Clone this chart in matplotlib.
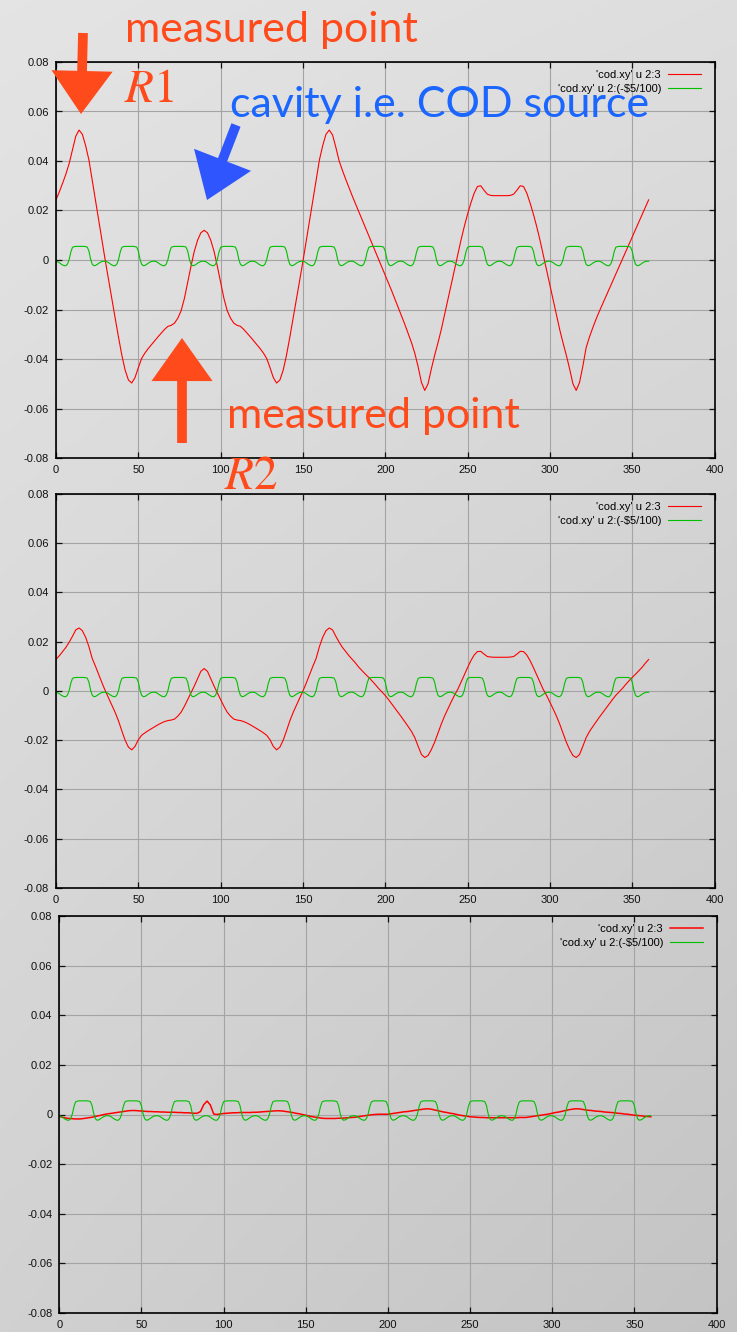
import matplotlib.pyplot as plt
import numpy as np
from matplotlib.patches import FancyArrowPatch, ArrowStyle

plt.rcParams["font.family"] = ["Liberation Sans", "DejaVu Sans"]
plt.rcParams["axes.unicode_minus"] = False
plt.rcParams["mathtext.fontset"] = "stix"

W, H = 737, 1332

# closed orbit (column 3 of cod.xy), sampled every 2 units of column 2
x_red = np.arange(0, 361, 2)
red_full = [
    0.0243, 0.0275, 0.0310, 0.0347, 0.0390, 0.0445, 0.0500, 0.0525, 0.0508, 0.0462,
    0.0404, 0.0322, 0.0240, 0.0158, 0.0076, -0.0005, -0.0083, -0.0160, -0.0237, -0.0313,
    -0.0385, -0.0445, -0.0485, -0.0497, -0.0475, -0.0435, -0.0398, -0.0376, -0.0358, -0.0342,
    -0.0326, -0.0310, -0.0295, -0.0280, -0.0268, -0.0264, -0.0255, -0.0235, -0.0205, -0.0155,
    -0.0090, -0.0025, 0.0035, 0.0080, 0.0110, 0.0120, 0.0110, 0.0080, 0.0035, -0.0025,
    -0.0090, -0.0155, -0.0205, -0.0235, -0.0255, -0.0264, -0.0268, -0.0280, -0.0295, -0.0310,
    -0.0326, -0.0342, -0.0358, -0.0376, -0.0398, -0.0435, -0.0475, -0.0497, -0.0485, -0.0445,
    -0.0385, -0.0313, -0.0237, -0.0160, -0.0083, -0.0005, 0.0076, 0.0158, 0.0240, 0.0322,
    0.0404, 0.0462, 0.0508, 0.0525, 0.0505, 0.0455, 0.0400, 0.0362, 0.0326, 0.0292,
    0.0258, 0.0226, 0.0194, 0.0162, 0.0130, 0.0098, 0.0066, 0.0034, 0.0002, -0.0030,
    -0.0062, -0.0094, -0.0126, -0.0160, -0.0194, -0.0228, -0.0262, -0.0298, -0.0335, -0.0378,
    -0.0432, -0.0495, -0.0527, -0.0500, -0.0440, -0.0385, -0.0335, -0.0282, -0.0222, -0.0160,
    -0.0100, -0.0040, 0.0020, 0.0080, 0.0135, 0.0185, 0.0230, 0.0270, 0.0297, 0.0300,
    0.0282, 0.0266, 0.0261, 0.0260, 0.0260, 0.0260, 0.0260, 0.0260, 0.0261, 0.0266,
    0.0282, 0.0300, 0.0297, 0.0270, 0.0230, 0.0185, 0.0135, 0.0080, 0.0020, -0.0040,
    -0.0100, -0.0160, -0.0222, -0.0282, -0.0335, -0.0385, -0.0440, -0.0500, -0.0527, -0.0495,
    -0.0430, -0.0355, -0.0312, -0.0275, -0.0240, -0.0208, -0.0178, -0.0148, -0.0118, -0.0088,
    -0.0058, -0.0028, 0.0002, 0.0033, 0.0063, 0.0093, 0.0123, 0.0153, 0.0183, 0.0213,
    0.0243,
]
red_half = [
    0.0128, 0.0143, 0.0160, 0.0177, 0.0198, 0.0222, 0.0248, 0.0256, 0.0245, 0.0218,
    0.0180, 0.0132, 0.0100, 0.0066, 0.0032, 0.0000, -0.0029, -0.0058, -0.0088, -0.0122,
    -0.0162, -0.0200, -0.0228, -0.0239, -0.0225, -0.0198, -0.0180, -0.0170, -0.0161, -0.0153,
    -0.0145, -0.0137, -0.0130, -0.0124, -0.0120, -0.0118, -0.0114, -0.0102, -0.0086, -0.0062,
    -0.0035, -0.0008, 0.0020, 0.0050, 0.0080, 0.0091, 0.0080, 0.0050, 0.0020, -0.0008,
    -0.0035, -0.0062, -0.0086, -0.0102, -0.0114, -0.0118, -0.0120, -0.0124, -0.0130, -0.0137,
    -0.0145, -0.0153, -0.0161, -0.0170, -0.0180, -0.0198, -0.0225, -0.0239, -0.0228, -0.0200,
    -0.0162, -0.0122, -0.0088, -0.0058, -0.0029, 0.0000, 0.0032, 0.0066, 0.0100, 0.0132,
    0.0180, 0.0218, 0.0245, 0.0256, 0.0248, 0.0222, 0.0198, 0.0177, 0.0160, 0.0143,
    0.0128, 0.0113, 0.0096, 0.0082, 0.0068, 0.0055, 0.0041, 0.0026, 0.0010, -0.0004,
    -0.0018, -0.0035, -0.0053, -0.0071, -0.0089, -0.0107, -0.0126, -0.0145, -0.0165, -0.0190,
    -0.0225, -0.0258, -0.0270, -0.0262, -0.0238, -0.0208, -0.0172, -0.0135, -0.0102, -0.0073,
    -0.0045, -0.0018, 0.0006, 0.0035, 0.0065, 0.0095, 0.0123, 0.0146, 0.0160, 0.0161,
    0.0150, 0.0140, 0.0138, 0.0137, 0.0137, 0.0137, 0.0137, 0.0137, 0.0138, 0.0140,
    0.0150, 0.0161, 0.0160, 0.0146, 0.0123, 0.0095, 0.0065, 0.0035, 0.0006, -0.0018,
    -0.0045, -0.0073, -0.0102, -0.0135, -0.0172, -0.0208, -0.0238, -0.0262, -0.0270, -0.0258,
    -0.0225, -0.0190, -0.0165, -0.0145, -0.0126, -0.0107, -0.0089, -0.0071, -0.0053, -0.0035,
    -0.0018, -0.0004, 0.0010, 0.0026, 0.0041, 0.0055, 0.0068, 0.0082, 0.0096, 0.0113,
    0.0128,
]
red_corr = [
    -0.0008, -0.0011, -0.0014, -0.0016, -0.0017, -0.0018, -0.0018, -0.0017, -0.0015, -0.0013,
    -0.0011, -0.0008, -0.0005, -0.0002, 0.0001, 0.0003, 0.0005, 0.0007, 0.0009, 0.0011,
    0.0013, 0.0015, 0.0016, 0.0016, 0.0015, 0.0014, 0.0013, 0.0012, 0.0012, 0.0011,
    0.0011, 0.0010, 0.0010, 0.0009, 0.0009, 0.0009, 0.0008, 0.0008, 0.0007, 0.0007,
    0.0006, 0.0005, 0.0005, 0.0012, 0.0040, 0.0054, 0.0038, 0.0002, 0.0000, 0.0002,
    0.0004, 0.0005, 0.0006, 0.0007, 0.0007, 0.0008, 0.0008, 0.0008, 0.0008, 0.0009,
    0.0009, 0.0010, 0.0011, 0.0012, 0.0013, 0.0014, 0.0015, 0.0015, 0.0014, 0.0012,
    0.0010, 0.0008, 0.0005, 0.0003, 0.0000, -0.0003, -0.0006, -0.0009, -0.0011, -0.0013,
    -0.0015, -0.0016, -0.0016, -0.0016, -0.0016, -0.0015, -0.0015, -0.0014, -0.0013, -0.0012,
    -0.0011, -0.0009, -0.0007, -0.0005, -0.0003, -0.0001, 0.0000, 0.0001, 0.0001, 0.0001,
    0.0001, 0.0003, 0.0005, 0.0007, 0.0009, 0.0011, 0.0012, 0.0014, 0.0016, 0.0018,
    0.0020, 0.0022, 0.0023, 0.0022, 0.0019, 0.0016, 0.0013, 0.0010, 0.0008, 0.0005,
    0.0003, 0.0000, -0.0003, -0.0005, -0.0007, -0.0009, -0.0010, -0.0011, -0.0012, -0.0012,
    -0.0013, -0.0013, -0.0013, -0.0013, -0.0013, -0.0013, -0.0013, -0.0013, -0.0013, -0.0013,
    -0.0012, -0.0012, -0.0012, -0.0010, -0.0008, -0.0006, -0.0004, -0.0002, 0.0000, 0.0002,
    0.0005, 0.0008, 0.0010, 0.0013, 0.0016, 0.0019, 0.0021, 0.0023, 0.0023, 0.0021,
    0.0019, 0.0017, 0.0016, 0.0014, 0.0013, 0.0012, 0.0010, 0.0009, 0.0008, 0.0007,
    0.0005, 0.0004, 0.0002, 0.0001, -0.0001, -0.0003, -0.0004, -0.0005, -0.0007, -0.0008,
    -0.0009,
]

# cavity term -$5/100, sampled every unit
x_green = np.arange(0, 361, 1)
green = [
    -0.0005, -0.0007, -0.0011, -0.0016, -0.0020, -0.0023, -0.0023, -0.0016, 0.0002, 0.0032, 0.0051, 0.0054, 0.0055, 0.0055, 0.0055, 0.0055, 0.0055, 0.0055, 0.0054, 0.0052, 0.0036, 0.0004, -0.0017, -0.0023, -0.0022, -0.0018, -0.0013, -0.0009, -0.0006, -0.0005,
    -0.0005, -0.0007, -0.0011, -0.0016, -0.0020, -0.0023, -0.0023, -0.0016, 0.0002, 0.0032, 0.0051, 0.0054, 0.0055, 0.0055, 0.0055, 0.0055, 0.0055, 0.0055, 0.0054, 0.0052, 0.0036, 0.0004, -0.0017, -0.0023, -0.0022, -0.0018, -0.0013, -0.0009, -0.0006, -0.0005,
    -0.0005, -0.0007, -0.0011, -0.0016, -0.0020, -0.0023, -0.0023, -0.0016, 0.0002, 0.0032, 0.0051, 0.0054, 0.0055, 0.0055, 0.0055, 0.0055, 0.0055, 0.0055, 0.0054, 0.0052, 0.0036, 0.0004, -0.0017, -0.0023, -0.0022, -0.0018, -0.0013, -0.0009, -0.0006, -0.0005,
    -0.0005, -0.0007, -0.0011, -0.0016, -0.0020, -0.0023, -0.0023, -0.0016, 0.0002, 0.0032, 0.0051, 0.0054, 0.0055, 0.0055, 0.0055, 0.0055, 0.0055, 0.0055, 0.0054, 0.0052, 0.0036, 0.0004, -0.0017, -0.0023, -0.0022, -0.0018, -0.0013, -0.0009, -0.0006, -0.0005,
    -0.0005, -0.0007, -0.0011, -0.0016, -0.0020, -0.0023, -0.0023, -0.0016, 0.0002, 0.0032, 0.0051, 0.0054, 0.0055, 0.0055, 0.0055, 0.0055, 0.0055, 0.0055, 0.0054, 0.0052, 0.0036, 0.0004, -0.0017, -0.0023, -0.0022, -0.0018, -0.0013, -0.0009, -0.0006, -0.0005,
    -0.0005, -0.0007, -0.0011, -0.0016, -0.0020, -0.0023, -0.0023, -0.0016, 0.0002, 0.0032, 0.0051, 0.0054, 0.0055, 0.0055, 0.0055, 0.0055, 0.0055, 0.0055, 0.0054, 0.0052, 0.0036, 0.0004, -0.0017, -0.0023, -0.0022, -0.0018, -0.0013, -0.0009, -0.0006, -0.0005,
    -0.0005, -0.0007, -0.0011, -0.0016, -0.0020, -0.0023, -0.0023, -0.0016, 0.0002, 0.0032, 0.0051, 0.0054, 0.0055, 0.0055, 0.0055, 0.0055, 0.0055, 0.0055, 0.0054, 0.0052, 0.0036, 0.0004, -0.0017, -0.0023, -0.0022, -0.0018, -0.0013, -0.0009, -0.0006, -0.0005,
    -0.0005, -0.0007, -0.0011, -0.0016, -0.0020, -0.0023, -0.0023, -0.0016, 0.0002, 0.0032, 0.0051, 0.0054, 0.0055, 0.0055, 0.0055, 0.0055, 0.0055, 0.0055, 0.0054, 0.0052, 0.0036, 0.0004, -0.0017, -0.0023, -0.0022, -0.0018, -0.0013, -0.0009, -0.0006, -0.0005,
    -0.0005, -0.0007, -0.0011, -0.0016, -0.0020, -0.0023, -0.0023, -0.0016, 0.0002, 0.0032, 0.0051, 0.0054, 0.0055, 0.0055, 0.0055, 0.0055, 0.0055, 0.0055, 0.0054, 0.0052, 0.0036, 0.0004, -0.0017, -0.0023, -0.0022, -0.0018, -0.0013, -0.0009, -0.0006, -0.0005,
    -0.0005, -0.0007, -0.0011, -0.0016, -0.0020, -0.0023, -0.0023, -0.0016, 0.0002, 0.0032, 0.0051, 0.0054, 0.0055, 0.0055, 0.0055, 0.0055, 0.0055, 0.0055, 0.0054, 0.0052, 0.0036, 0.0004, -0.0017, -0.0023, -0.0022, -0.0018, -0.0013, -0.0009, -0.0006, -0.0005,
    -0.0005, -0.0007, -0.0011, -0.0016, -0.0020, -0.0023, -0.0023, -0.0016, 0.0002, 0.0032, 0.0051, 0.0054, 0.0055, 0.0055, 0.0055, 0.0055, 0.0055, 0.0055, 0.0054, 0.0052, 0.0036, 0.0004, -0.0017, -0.0023, -0.0022, -0.0018, -0.0013, -0.0009, -0.0006, -0.0005,
    -0.0005, -0.0007, -0.0011, -0.0016, -0.0020, -0.0023, -0.0023, -0.0016, 0.0002, 0.0032, 0.0051, 0.0054, 0.0055, 0.0055, 0.0055, 0.0055, 0.0055, 0.0055, 0.0054, 0.0052, 0.0036, 0.0004, -0.0017, -0.0023, -0.0022, -0.0018, -0.0013, -0.0009, -0.0006, -0.0005,
    -0.0005,
]

xticks = [0, 50, 100, 150, 200, 250, 300, 350, 400]
xticklabels = ["0", "50", "100", "150", "200", "250", "300", "350", "400"]
yticks = [-0.08, -0.06, -0.04, -0.02, 0, 0.02, 0.04, 0.06, 0.08]
yticklabels = ["-0.08", "-0.06", "-0.04", "-0.02", "0", "0.02", "0.04", "0.06", "0.08"]
labels = ["'cod.xy' u 2:3", "'cod.xy' u 2:(-$5/100)"]

ORANGE = "#ff4a1c"
BLUE = "#1a66ff"


def rect(l, t, r, b):
    return [l / W, 1 - b / H, (r - l) / W, (b - t) / H]


def fpos(x, y):
    return (x / W, 1 - y / H)


fig = plt.figure(figsize=(W / 100, H / 100), dpi=100)

# grey gradient backdrop
bg = fig.add_axes([0, 0, 1, 1], zorder=-10)
gx, gy = np.meshgrid(np.linspace(0, 1, 200), np.linspace(0, 1, 400))
shade = 0.895 - 0.025 * gx - 0.075 * gy - 0.03 * gx * gy
bg.imshow(np.dstack([shade] * 3), aspect="auto", extent=[0, 1, 0, 1], origin="upper")
bg.axis("off")

panels = [
    (rect(56, 62, 714.5, 458), red_full, 0.8),
    (rect(56, 494, 714.5, 888), red_half, 0.8),
    (rect(59.2, 916, 716.5, 1313), red_corr, 1.1),
]
for box, red, lw in panels:
    ax = fig.add_axes(box)
    ax.set_facecolor("none")
    ax.plot(x_red, red, color="#ff0000", lw=lw, label=labels[0])
    ax.plot(x_green, green, color="#00c000", lw=0.8, label=labels[1])
    ax.set_xlim(0, 400)
    ax.set_ylim(-0.08, 0.08)
    ax.set_xticks(xticks)
    ax.set_xticklabels(xticklabels)
    ax.set_yticks(yticks)
    ax.set_yticklabels(yticklabels)
    ax.tick_params(direction="in", top=True, right=True, length=4, width=0.9,
                   labelsize=8, pad=5, colors="#111111")
    ax.grid(color="#a4a4a4", lw=0.8)
    for sp in ax.spines.values():
        sp.set_linewidth(1.2)
    ax.legend(loc="upper right", bbox_to_anchor=(0.9795, 0.979), frameon=False,
              markerfirst=False, handlelength=3.0, handletextpad=0.6,
              labelspacing=0.35, borderaxespad=0, borderpad=0, fontsize=8)

# slide annotations
txt = dict(family=["Lato", "DejaVu Sans"], ha="left", va="baseline")
fig.text(*fpos(125, 42), "measured point", color=ORANGE, fontsize=31, **txt)
fig.text(*fpos(227, 428), "measured point", color=ORANGE, fontsize=31, **txt)
fig.text(*fpos(230, 117), "cavity i.e. COD source", color=BLUE, fontsize=31, **txt)
fig.text(*fpos(124, 102), r"$R1$", color=ORANGE, fontsize=34, ha="left", va="baseline")
fig.text(*fpos(224, 489), r"$R2$", color=ORANGE, fontsize=34, ha="left", va="baseline")

arrows = [
    ((83, 33), (81, 114), ORANGE),
    ((182, 443), (182, 338), ORANGE),
    ((236, 125), (207, 200), "#2f55ff"),
]
for tail, tip, col in arrows:
    fig.add_artist(FancyArrowPatch(
        fpos(*tail), fpos(*tip), transform=fig.transFigure,
        arrowstyle=ArrowStyle.Simple(head_length=31, head_width=44, tail_width=7),
        mutation_scale=1, color=col, lw=0, shrinkA=0, shrinkB=0))

fig.savefig("out.png", dpi=100)
